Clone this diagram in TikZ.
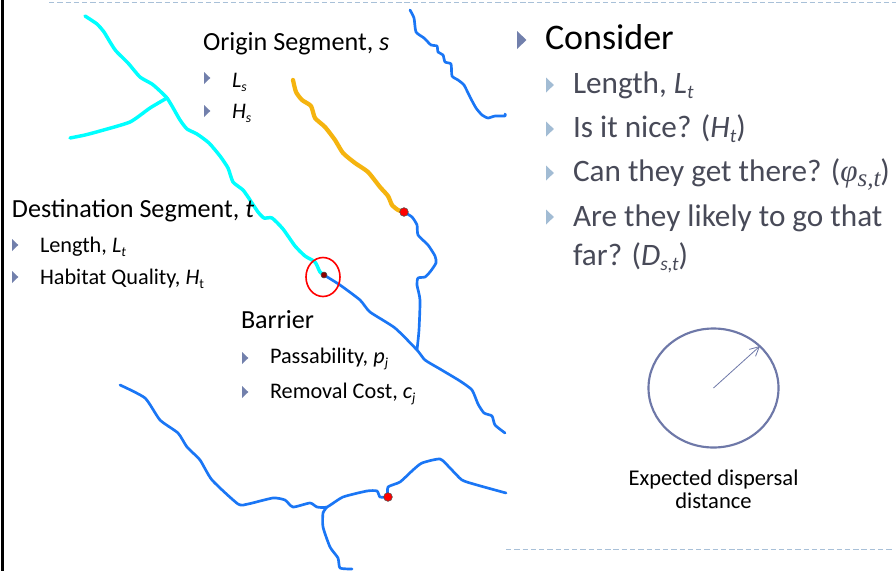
\documentclass[tikz,border=0pt]{standalone}
\usetikzlibrary{shapes.geometric,arrows.meta}
\usepackage{fontspec}
\setmainfont{Carlito}
\newfontfamily\phifont{Liberation Serif}
\definecolor{dashc}{HTML}{A8C0D8}
\definecolor{river}{HTML}{1A76F5}
\definecolor{cyanr}{HTML}{00FFFF}
\definecolor{orng}{HTML}{F5B40F}
\definecolor{bulA}{HTML}{7280AC}
\definecolor{bulB}{HTML}{A2BCD4}
\definecolor{greyt}{HTML}{484A58}
\definecolor{ringc}{HTML}{6E78A8}
\newcommand{\fs}[1]{\fontsize{#1}{#1}\selectfont}
\newcommand{\sbx}[1]{\raisebox{-0.4ex}{\fontsize{0.62em}{0.62em}\selectfont\textit{#1}}}
\tikzset{
  x=0.75pt,y=-0.75pt,
  riverline/.style={river,line width=2pt,line join=round,line cap=round},
  cyanline/.style={cyanr,line width=2.6pt,line join=round,line cap=round},
  orangeline/.style={orng,line width=3.2pt,line join=round,line cap=round},
  dashline/.style={dashc,line width=0.7pt,dash pattern=on 4pt off 2.2pt},
  barrier/.style={circle,fill=red,draw=black!70,line width=0.4pt,inner sep=0pt,minimum size=6.5pt},
  txt/.style={anchor=base west,inner sep=0pt,outer sep=0pt,text=black},
  bigtxt/.style={txt,font=\fs{19.6}},
  smalltxt/.style={txt,font=\fs{16.7}},
  greytxt/.style={txt,font=\fs{23.4},text=greyt},
  centretxt/.style={anchor=base,inner sep=0pt,outer sep=0pt,font=\fs{16.9}},
}
\newcommand{\tri}[4]{\fill[#4] (#1,#2-#3) -- (#1+#3*1.05,#2) -- (#1,#2+#3) -- cycle;}
\newcommand{\wiggle}[2]{\draw[#1] plot[smooth,tension=0.35] coordinates {#2};}
\begin{document}
\begin{tikzpicture}
\useasboundingbox (0,0) rectangle (896,571);
\fill[white] (0,0) rectangle (896,571);
\fill[black] (1,0) rectangle (3.6,571);
\draw[dashline] (49,2) -- (896,2);
\draw[dashline] (506,549) -- (893,549);
% rivers
\wiggle{riverline}{(410,10) (414,18) (416,32) (424,38) (431,45) (437,46) (438,52) (443,55) (445,62) (451,64) (452,76) (458,80) (464,85) (470,97) (476,108) (482,115) (488,118) (495,116) (505,116) (505,114)}
\wiggle{riverline}{(404,212) (412,217) (417,225) (418,235) (428,245) (435,256) (436,263) (430,272) (425,277) (418,278) (417,285) (420,300) (419,330) (417,350)}
\wiggle{riverline}{(324,275) (340,285) (360,300) (370,312) (395,328) (417,350) (425,360) (440,369) (460,381) (472,390) (478,404) (484,413) (492,416) (495,425) (505,433)}
\wiggle{riverline}{(120,385) (145,398) (160,420) (178,433) (187,447) (200,460) (212,480) (238,504) (248,504) (273,498) (285,500) (293,507) (310,503) (317,507) (327,507) (343,497) (367,491) (377,491) (380,497) (388,497)}
\wiggle{riverline}{(388,497) (388,487) (400,482) (413,470) (422,463) (440,459) (450,468) (462,480) (477,485) (506,493)}
\wiggle{riverline}{(327,507) (323,513) (323,527) (330,547) (338,558) (340,568) (352,569)}
\wiggle{cyanline}{(85,16) (97,24) (104,32) (110,42) (116,51) (128,63) (140,77) (152,84) (160,91) (167,98) (172,106) (180,120) (187,129) (197,134) (209,143) (220,156) (228,168) (233,182) (243,190) (250,200) (258,212) (264,218) (272,218) (283,229) (295,246) (305,256) (315,262) (320,272) (324,275)}
\wiggle{cyanline}{(167,98) (150,108) (130,122) (100,131) (85,135) (70,138)}
\wiggle{orangeline}{(293,80) (296,92) (302,100) (311,106) (315,118) (325,127) (335,140) (343,153) (355,163) (368,172) (380,187) (388,196) (392,205) (398,210) (404,212)}
% barriers
\node[barrier] (b1) at (404,212) {};
\node[barrier] (b2) at (388,497) {};
\node[barrier,minimum size=4.5pt,fill=red!55!black] (b3) at (324,275) {};
\draw[red,line width=1.2pt] (323,277) ellipse [x radius=17,y radius=19.5];
% labels
\node[bigtxt] (origin) at (203,50) {Origin Segment, \textit{s}};
\tri{204}{78}{6}{bulA}
\node[smalltxt] (ls) at (232,87) {\textit{L}\sbx{s}};
\tri{204}{111}{6}{bulA}
\node[smalltxt] (hs) at (232,118) {\textit{H}\sbx{s}};
\node[bigtxt] (dest) at (12,217) {Destination Segment, \textit{t}};
\tri{12}{245}{6}{bulA}
\node[smalltxt] (lt) at (40,252) {Length, \textit{L}\sbx{t}};
\tri{12}{277}{6}{bulA}
\node[smalltxt] (ht) at (40,284) {Habitat Quality, \textit{H}\raisebox{-0.4ex}{\fontsize{0.62em}{0.62em}\selectfont t}};
\node[bigtxt] (barr) at (241,328) {Barrier};
\tri{242}{358}{6}{bulA}
\node[smalltxt] (pj) at (270,363) {Passability, \textit{p}\sbx{j}};
\tri{242}{392}{6}{bulA}
\node[smalltxt] (cj) at (270,398) {Removal Cost, \textit{c}\sbx{j}};
\tri{517}{40}{9}{bulA}
\node[txt,font=\fs{27}] (cons) at (545,49) {Consider};
\tri{546}{85}{7.5}{bulB}
\node[greytxt] (g1) at (573,93) {Length, \textit{L}\sbx{t}};
\tri{546}{129}{7.5}{bulB}
\node[greytxt] (g2) at (573,137) {Is it nice? (\textit{H}\sbx{t})};
\tri{546}{173}{7.5}{bulB}
\node[greytxt] (g3) at (573,181) {Can they get there? ({\phifont\itshape φ\raisebox{-0.35ex}{\fontsize{0.8em}{0.8em}\selectfont s,t}})};
\tri{546}{217}{7.5}{bulB}
\node[greytxt] (g4) at (573,226.5) {Are they likely to go that};
\node[greytxt] (g5) at (573,265) {far? (\textit{D}\sbx{s,t})};
% dispersal circle
\draw[ringc,line width=1.6pt] (713.5,388) ellipse [x radius=65,y radius=59.5];
\coordinate (ctr) at (713.5,388);
\coordinate (rim) at (760,346);
\draw[ringc,line width=0.6pt,-{Straight Barb[length=7pt,width=7pt]}] (ctr) -- (rim);
\node[centretxt] (e1) at (713.5,485) {Expected dispersal};
\node[centretxt] (e2) at (713.5,508) {distance};
\end{tikzpicture}
\end{document}
